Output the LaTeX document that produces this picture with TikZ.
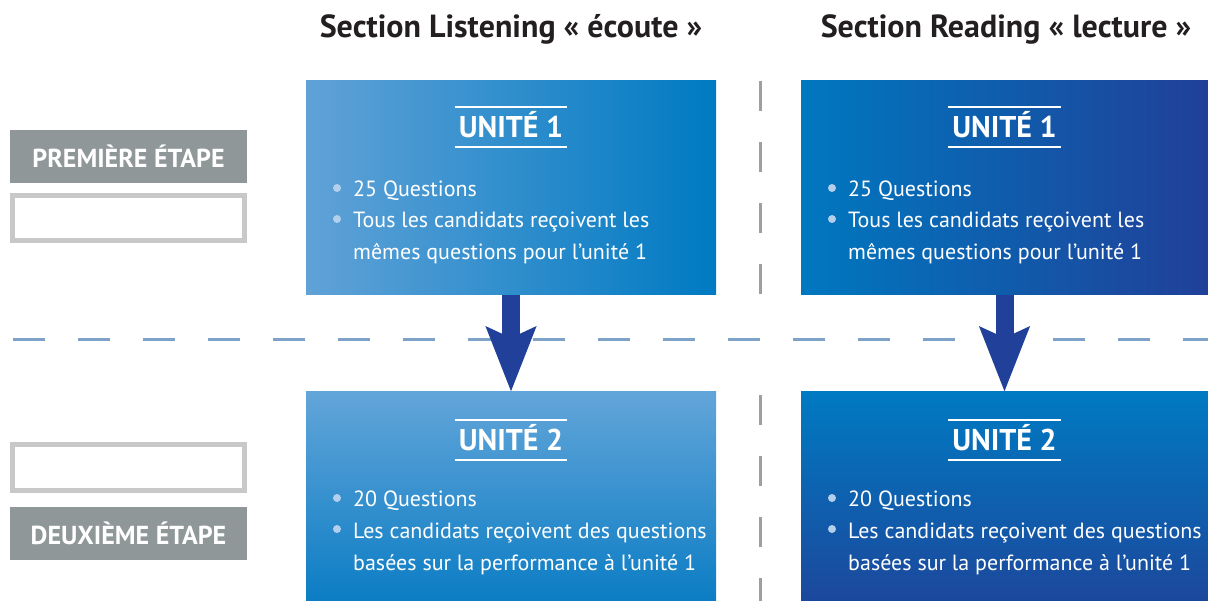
\documentclass[tikz,border=0pt]{standalone}
\usepackage{fontspec}
\setmainfont{PT Sans}
\usetikzlibrary{calc,arrows.meta}

\definecolor{titlegray}{RGB}{35,31,32}
\definecolor{etapegray}{RGB}{143,151,153}
\definecolor{blankgray}{RGB}{200,200,200}
\definecolor{lsA}{RGB}{96,162,215}
\definecolor{lsB}{RGB}{0,122,194}
\definecolor{lsC}{RGB}{98,165,217}
\definecolor{lsD}{RGB}{12,125,196}
\definecolor{rdA}{RGB}{0,120,192}
\definecolor{rdB}{RGB}{32,64,152}
\definecolor{rdC}{RGB}{0,122,194}
\definecolor{rdD}{RGB}{28,72,156}
\definecolor{arrowblue}{RGB}{33,64,154}
\definecolor{dotblue}{RGB}{180,207,235}
\definecolor{hsepblue}{RGB}{127,163,200}
\definecolor{vsepgray}{RGB}{155,160,162}

\begin{document}
\begin{tikzpicture}[x=1pt,y=-1pt,
  unitbox/.style={rectangle,inner sep=0pt,outer sep=0pt},
  unithead/.style={anchor=base,text=white,inner xsep=4pt,inner ysep=0pt,
    text height=31pt,text depth=9pt,font=\bfseries\fontsize{30pt}{30pt}\selectfont},
  headrule/.style={white,line width=1.6pt},
  item/.style={anchor=base west,inner sep=0pt,text=white,font=\fontsize{22pt}{26pt}\selectfont},
  dot/.style={circle,fill=dotblue,minimum size=8pt,inner sep=0pt},
  etape/.style={fill=etapegray,minimum width=237pt,minimum height=53pt,inner sep=0pt,
    text=white,font=\bfseries\fontsize{26pt}{26pt}\selectfont},
  blankbox/.style={draw=blankgray,line width=5pt,minimum width=232pt,minimum height=45pt,inner sep=0pt},
  title/.style={anchor=base,text=titlegray,font=\bfseries\fontsize{32pt}{32pt}\selectfont},
  flowarrow/.style={draw=arrowblue,line width=18pt,-{Stealth[length=64pt,width=48pt,inset=10pt]}},
  hsep/.style={draw=hsepblue,line width=3pt,dash pattern=on 32pt off 33pt},
  vsep/.style={draw=vsepgray,line width=3pt,dash pattern=on 30pt off 31pt}]
  \useasboundingbox (0,0) rectangle (1208,601);

  \draw[hsep] (13,340) -- (1208,340);
  \draw[vsep] (760,81) -- (760,295) (760,395) -- (760,601);

  \node[title] (tl) at (511,38) {Section Listening « écoute »};
  \node[title] (tr) at (1006,38) {Section Reading « lecture »};

  \node[etape] (e1) at (128.5,156.5) {PREMIÈRE ÉTAPE};
  \node[blankbox] (b1) at (128.5,218) {};
  \node[blankbox] (b2) at (128.5,467.5) {};
  \node[etape] (e2) at (128.5,533.5) {DEUXIÈME ÉTAPE};

  \foreach \n/\cx/\w/\ca/\cb/\cc/\cd in {l/511/410/lsA/lsB/lsC/lsD, r/1004.5/407/rdA/rdB/rdC/rdD} {
    \node[unitbox,minimum width=\w pt,minimum height=214pt,left color=\ca,right color=\cb] (\n1) at (\cx,188) {};
    \node[unitbox,minimum width=\w pt,minimum height=208pt,top color=\cc,bottom color=\cd] (\n2) at (\cx,496) {};

    \node[unithead] (\n1h) at ($(\n1.north)+(0,57)$) {UNITÉ 1};
    \draw[headrule] (\n1h.north west) -- (\n1h.north east) (\n1h.south west) -- (\n1h.south east);
    \node[dot] (\n1da) at ($(\n1.north west)+(31,107)$) {};
    \node[item] (\n1a) at ($(\n1.north west)+(47,116)$) {25 Questions};
    \node[dot] (\n1db) at ($(\n1.north west)+(31,138)$) {};
    \node[item] (\n1b) at ($(\n1.north west)+(47,147)$) {Tous les candidats reçoivent les};
    \node[item] (\n1c) at ($(\n1.north west)+(47,179)$) {mêmes questions pour l’unité 1};

    \node[unithead] (\n2h) at ($(\n2.north)+(0,59)$) {UNITÉ 2};
    \draw[headrule] (\n2h.north west) -- (\n2h.north east) (\n2h.south west) -- (\n2h.south east);
    \node[dot] (\n2da) at ($(\n2.north west)+(31,106)$) {};
    \node[item] (\n2a) at ($(\n2.north west)+(47,115)$) {20 Questions};
    \node[dot] (\n2db) at ($(\n2.north west)+(31,137)$) {};
    \node[item] (\n2b) at ($(\n2.north west)+(47,146)$) {Les candidats reçoivent des questions};
    \node[item] (\n2c) at ($(\n2.north west)+(47,178)$) {basées sur la performance à l’unité 1};

    \draw[flowarrow] (\n1) -- (\n2);
  }
\end{tikzpicture}
\end{document}
